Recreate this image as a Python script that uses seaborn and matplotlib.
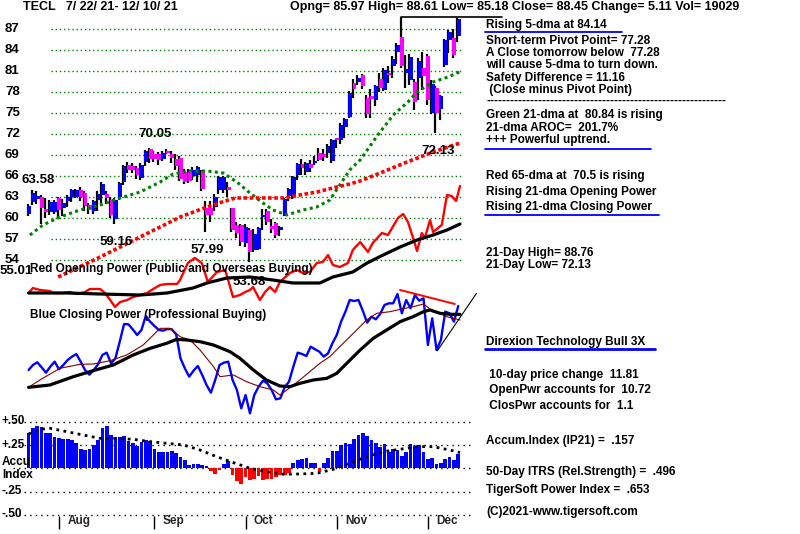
import numpy as np
import matplotlib
matplotlib.use("Agg")
import matplotlib.pyplot as plt
import seaborn as sns
from matplotlib.lines import Line2D

# ---------------- data ----------------
days = np.arange(100)
opens = [60.6, 62.3, 62.7, 63.0, 61.3, 60.9, 60.8, 62.8, 61.4, 62.4,
         63.0, 63.0, 64.0, 63.6, 61.9, 61.0, 62.6, 63.3, 63.4, 62.6,
         59.8, 63.0, 65.1, 67.6, 67.5, 67.1, 65.7, 68.0, 69.9, 69.2,
         69.1, 68.5, 69.6, 69.1, 68.5, 68.6, 66.6, 66.6, 66.0, 66.2,
         66.7, 61.4, 61.5, 61.6, 64.0, 64.0, 64.4, 61.4, 59.0, 59.0,
         56.4, 58.3, 55.4, 55.6, 60.1, 61.0, 58.8, 59.3, 58.3, 60.5,
         63.2, 63.1, 66.1, 67.7, 66.6, 67.7, 67.8, 69.3, 69.1, 69.3,
         68.1, 71.4, 71.1, 73.0, 74.4, 79.3, 79.4, 80.4, 77.1, 77.5,
         76.9, 79.9, 78.3, 80.7, 81.7, 83.7, 85.9, 80.7, 79.7, 79.4,
         80.0, 81.4, 83.1, 75.0, 78.6, 75.6, 81.9, 85.4, 85.7, 85.97]
highs = [62.0, 64.0, 63.9, 63.3, 62.8, 62.6, 62.6, 63.0, 62.7, 63.3,
         64.1, 64.2, 64.5, 63.9, 62.2, 62.6, 63.8, 65.2, 63.8, 63.0,
         62.8, 65.2, 67.6, 68.0, 67.8, 67.4, 67.8, 69.7, 70.05, 69.6,
         69.5, 69.6, 69.9, 69.6, 69.1, 68.8, 67.0, 67.0, 67.3, 67.4,
         66.8, 62.5, 62.5, 63.4, 66.0, 66.0, 65.1, 61.5, 59.4, 59.2,
         59.2, 58.6, 58.4, 58.7, 61.3, 61.3, 59.8, 59.5, 58.9, 62.8,
         64.3, 66.0, 67.8, 68.5, 68.0, 68.3, 68.8, 70.0, 69.8, 70.6,
         71.3, 71.5, 73.6, 74.3, 78.2, 79.8, 80.5, 80.6, 77.6, 78.4,
         79.0, 80.7, 81.4, 81.7, 83.1, 85.0, 88.76, 83.3, 83.5, 79.8,
         82.9, 83.7, 83.4, 79.7, 78.9, 77.6, 85.6, 86.8, 87.0, 88.61]
lows = [60.3, 61.8, 62.0, 59.2, 60.0, 60.4, 60.6, 60.0, 60.3, 61.6,
        62.3, 62.9, 62.5, 61.0, 60.6, 60.6, 61.0, 62.1, 62.0, 60.0,
        59.16, 62.6, 64.7, 66.4, 66.4, 65.6, 65.4, 67.5, 67.9, 68.0,
        67.6, 68.2, 69.2, 67.8, 66.8, 65.3, 64.8, 65.0, 65.4, 65.2,
        63.8, 57.99, 59.5, 61.0, 63.5, 63.6, 63.0, 58.0, 57.2, 56.0,
        55.8, 53.68, 55.2, 55.4, 58.3, 59.0, 57.9, 57.2, 57.4, 60.3,
        62.5, 62.7, 65.5, 66.2, 66.2, 66.6, 67.6, 68.1, 68.2, 68.6,
        67.9, 70.0, 70.6, 71.4, 74.3, 77.2, 79.0, 78.5, 74.3, 74.3,
        76.0, 78.0, 78.1, 79.3, 80.0, 82.0, 81.5, 78.6, 79.0, 75.5,
        76.9, 78.3, 76.2, 74.8, 72.13, 74.0, 81.6, 83.6, 82.8, 85.18]
closes = [61.7, 63.6, 63.2, 61.4, 60.8, 62.3, 62.3, 61.1, 62.1, 63.0,
          64.0, 64.0, 63.0, 61.7, 61.2, 62.4, 63.5, 64.9, 62.8, 60.4,
          62.6, 65.0, 67.4, 66.9, 66.9, 66.1, 67.6, 69.6, 68.4, 68.5,
          68.3, 69.3, 69.3, 68.6, 67.4, 65.6, 65.1, 65.3, 66.9, 67.3,
          64.2, 60.4, 60.5, 63.0, 65.9, 65.8, 64.0, 58.3, 57.8, 56.6,
          58.7, 55.1, 57.7, 58.6, 60.4, 59.4, 58.5, 57.6, 58.7, 62.7,
          64.1, 65.9, 67.7, 67.2, 67.8, 67.2, 68.1, 68.3, 68.7, 70.3,
          71.1, 71.1, 73.3, 74.1, 77.9, 78.4, 80.0, 78.9, 74.9, 77.0,
          78.9, 78.6, 81.1, 80.4, 82.7, 84.7, 81.7, 81.3, 83.0, 76.6,
          82.4, 80.3, 76.9, 79.1, 75.0, 77.4, 85.4, 86.6, 83.3, 88.45]

# green 21-dma (day, price)
ma21_days = [0.3, 3.3, 7.2, 11.8, 16.5, 21.1, 25.7, 30.3, 33.3, 37.2, 41.1, 44.8, 48.0, 51.0,
             54.0, 56.3, 59.5, 63.2, 66.4, 69.4, 71.7, 74.0, 76.4, 80.3, 84.0, 87.4, 89.5,
             93.2, 96.6, 99.3]
ma21_vals = [57.57, 59.0, 60.14, 61.14, 61.86, 62.86, 63.71, 65.14, 66.29, 66.71, 66.71, 66.43,
             65.14, 63.57, 62.14, 61.14, 60.43, 61.14, 61.57, 62.57, 64.71, 66.86, 68.29, 71.71,
             74.71, 76.57, 78.0, 79.43, 80.14, 80.86]
# red 65-dma (day, price)
ma65_days = [6.8, 16.5, 25.7, 34.9, 41.1, 44.6, 47.6, 59.1, 62.5, 66.4, 70.1, 74.0, 76.4, 81.0,
             87.2, 93.2, 99.4]
ma65_vals = [51.57, 54.43, 57.29, 60.14, 61.57, 62.29, 62.86, 62.86, 63.29, 63.71, 64.29, 64.86,
             65.29, 66.43, 68.0, 69.43, 70.71]

# Opening Power (arbitrary units) and its moving average
op_days = [0, 1, 2.6, 4.9, 5.6, 7.9, 9.5, 11.2, 13, 14.1, 16.5, 17.6, 18.8, 19.9, 21.1, 22.7,
           24.1, 25.7, 27.3, 28.7, 30.3, 31.9, 34.2, 34.9, 36.7, 38.3, 39.9, 41.3, 43.4, 45.3,
           47.1, 48.7, 49.9, 51, 51.7, 53.3, 54.5, 55.6, 56.8, 57.9, 60.2, 61.8, 63.2, 64.8,
           66.4, 67.8, 69, 70.1, 71.7, 73.6, 74.7, 76.4, 78.2, 79.3, 81.4, 82.8, 83.9, 85.1,
           86.3, 87.4, 88.6, 89.5, 90.6, 91.3, 92.5, 93.2, 95.2, 96.4, 97.5, 98.5, 99.4]
op_vals = [411, 426, 420, 417, 411, 411, 414, 408, 414, 423, 423, 411, 390, 369, 384, 390,
           399, 405, 411, 423, 435, 438, 438, 450, 501, 516, 501, 444, 474, 480,
           399, 405, 414, 420, 429, 390, 414, 429, 414, 444, 471, 480, 471, 474,
           501, 504, 525, 495, 489, 501, 540, 564, 534, 561, 591, 585, 609, 636,
           648, 624, 576, 537, 591, 576, 630, 594, 615, 705, 702, 687, 732]
opma_days = [0, 8.8, 16.5, 25.7, 31.9, 37.9, 41.1, 45.7, 51, 56.3, 60.9, 67.1, 70.1, 74.7,
             78, 81.7, 85.6, 89.5, 93.2, 96.4, 99.4]
opma_vals = [411, 411, 408, 405, 411, 426, 441, 456, 459, 450, 441, 441, 459, 474,
             501, 525, 549, 570, 585, 600, 618]

# Closing Power (same arbitrary units), daily
cp = [180, 195, 203, 188, 172, 190, 205, 182, 195, 210,
      220, 228, 205, 180, 166, 180, 197, 225, 232, 200,
      215, 265, 318, 317, 302, 285, 300, 342, 325, 312,
      300, 298, 303, 302, 287, 215, 185, 160, 178, 192,
      165, 135, 112, 150, 195, 202, 205, 150, 120, 65,
      105, 50, 105, 130, 148, 140, 120, 92, 95, 128,
      145, 190, 232, 228, 222, 250, 242, 235, 220, 230,
      260, 285, 325, 355, 390, 387, 390, 358, 322, 340,
      332, 348, 375, 380, 380, 408, 350, 390, 365, 405,
      388, 395, 255, 335, 240, 270, 355, 350, 325, 372]
cp21_days = [0, 2.6, 7.2, 11.8, 14.9, 18.8, 22.6, 26.4, 30.3, 32.6, 34.9, 37.2, 39.5, 42.6,
             44.1, 47.2, 50.2, 53.3, 56.4, 57.9, 59.5, 62.5, 67.1, 69.4, 71.7, 74.8, 77.9,
             80.2, 83.3, 85.6, 88.6, 91, 93.3, 94.8, 96.3, 97.9, 99.4]
cp21_vals = [128, 150, 185, 197, 198, 208, 225, 255, 305, 305, 280, 270, 240, 190,
             160, 165, 145, 130, 120, 105, 120, 150, 200, 220, 250, 290, 330,
             350, 355, 362, 370, 378, 355, 350, 340, 335, 330]
cpma_days = [0, 4.9, 10.3, 14.9, 19.5, 24.1, 28, 31.8, 34.1, 36.4, 39.5, 42.6, 46.4, 48.7,
             51.8, 54.8, 57.9, 60.2, 62.5, 65.6, 68.7, 71, 73.3, 76.4, 79.4, 82.5, 85.6,
             88.6, 91, 92.5, 94.8, 97.1, 99.4]
cpma_vals = [128, 135, 160, 178, 195, 225, 245, 260, 272, 270, 265, 255, 235, 215,
             180, 150, 132, 130, 140, 150, 155, 170, 200, 240, 275, 300, 325,
             340, 355, 360, 350, 347, 347]
cp_res_days, cp_res_vals = [85.6, 98.2], [420, 378]
cp_sup_days, cp_sup_vals = [94.2, 103.2], [238, 410]

# Accumulation index (IP21), daily
accum = [0.375, 0.43, 0.45, 0.44, 0.38, 0.38, 0.34, 0.32, 0.31, 0.31,
         0.30, 0.275, 0.21, 0.20, 0.21, 0.25, 0.30, 0.43, 0.45, 0.36,
         0.34, 0.34, 0.35, 0.29, 0.27, 0.24, 0.28, 0.30, 0.29, 0.21,
         0.17, 0.17, 0.18, 0.19, 0.16, 0.125, 0.09, 0.036, 0.046, 0.046,
         0.036, 0.025, -0.03, -0.06, -0.018, 0.05, 0.08, -0.07, -0.14, -0.17,
         -0.09, -0.125, -0.12, -0.08, -0.125, -0.11, -0.12, -0.09, -0.07, -0.07,
         -0.046, 0.06, 0.09, 0.10, 0.11, 0.06, 0.054, -0.036, 0.054, 0.11,
         0.19, 0.19, 0.25, 0.27, 0.26, 0.31, 0.36, 0.375, 0.35, 0.30,
         0.27, 0.23, 0.26, 0.18, 0.21, 0.20, 0.13, 0.18, 0.26, 0.24,
         0.25, 0.18, 0.10, 0.11, 0.046, 0.054, 0.10, 0.12, 0.09, 0.157]
aima_days = [0, 2.6, 4.9, 8.8, 12.6, 16.5, 20.3, 24.1, 28, 31.8, 35.7, 39.5, 43.3, 47.2, 51,
             54.8, 58.7, 62.5, 66.4, 70.2, 74, 77.9, 81.7, 85.6, 89.4, 93.2, 97.1, 99.4]
aima_vals = [0.368, 0.418, 0.429, 0.393, 0.357, 0.321, 0.321, 0.311, 0.286, 0.268, 0.25,
             0.196, 0.125, 0.061, 0.0, -0.036, -0.064, -0.061, -0.054, -0.011, 0.054,
             0.125, 0.179, 0.204, 0.232, 0.232, 0.196, 0.168]

price_levels = [54, 57, 60, 63, 66, 69, 72, 75, 78, 81, 84, 87]
accum_levels = [0.5, 0.25, 0.0, -0.25, -0.5]
month_days = [7, 29, 50, 71, 92]
month_names = ["Aug", "Sep", "Oct", "Nov", "Dec"]
high21 = 88.76

# ---------------- styling ----------------
sns.set_theme(style="white")
plt.rcParams["font.family"] = ["Liberation Sans", "DejaVu Sans"]
plt.rcParams["font.weight"] = "bold"

W, H = 800, 534
fig = plt.figure(figsize=(8, 5.34), dpi=100)
fig.patch.set_facecolor("white")

X0, DX = 28.6, 4.34
XLIM = (-X0 / DX, (W - X0) / DX)


def fpos(top, bottom):
    return [0, 1 - bottom / H, 1, (bottom - top) / H]


ax_p = fig.add_axes(fpos(0, 300))
ax_w = fig.add_axes(fpos(170, 420))
ax_a = fig.add_axes(fpos(410, 534))

# ---- price panel ----
for p in price_levels:
    ax_p.axhline(p, xmin=51 / W, xmax=463 / W, color="#008000", lw=1, ls=(0, (1, 2)), zorder=1)
    ax_p.text((5 - X0) / DX, p, str(p), ha="left", va="center", fontsize=9.5,
              fontweight="bold", color="black")

o = np.array(opens); c = np.array(closes)
cols = np.where(c >= o, "#0000FF", "#FF00FF")
ax_p.vlines(days - 0.25, lows, highs, color="black", lw=1.6, zorder=2)
ax_p.bar(days + 0.1, np.maximum(np.abs(c - o), 0.3), bottom=np.minimum(o, c), width=0.9,
         color=cols, linewidth=0, zorder=3)

sns.lineplot(x=ma21_days, y=ma21_vals, ax=ax_p, color="#008000", lw=2.2,
             linestyle=(0, (1, 1.1)), estimator=None, sort=False, legend=False, zorder=4)
sns.lineplot(x=ma65_days, y=ma65_vals, ax=ax_p, color="#FF0000", lw=2.6,
             linestyle=(0, (1, 0.7)), estimator=None, sort=False, legend=False, zorder=4)
ax_p.plot([85.8, 109], [high21, high21], color="black", lw=1.2, zorder=4)

# ---- power panel ----
sns.lineplot(x=op_days, y=op_vals, ax=ax_w, color="#FF0000", lw=1.7,
             estimator=None, sort=False, legend=False)
sns.lineplot(x=opma_days, y=opma_vals, ax=ax_w, color="black", lw=2.3,
             estimator=None, sort=False, legend=False)
sns.lineplot(x=days, y=cp, ax=ax_w, color="#0000FF", lw=1.7,
             estimator=None, sort=False, legend=False)
sns.lineplot(x=cp21_days, y=cp21_vals, ax=ax_w, color="#800000", lw=0.8,
             estimator=None, sort=False, legend=False)
sns.lineplot(x=cpma_days, y=cpma_vals, ax=ax_w, color="black", lw=2.3,
             estimator=None, sort=False, legend=False)
ax_w.plot(cp_res_days, cp_res_vals, color="#FF0000", lw=1.4)
ax_w.plot(cp_sup_days, cp_sup_vals, color="black", lw=0.8)

# ---- accumulation panel ----
for v in accum_levels:
    ax_a.axhline(v, xmin=13 / W, xmax=471 / W, color="black", lw=1, ls=(0, (1, 3)), zorder=1)
acc = np.array(accum)
ax_a.bar(days, acc, width=0.85, color=np.where(acc >= 0, "#0000FF", "#FF0000"),
         linewidth=0, zorder=4)
sns.lineplot(x=aima_days, y=aima_vals, ax=ax_a, color="black", lw=2.0,
             linestyle=(0, (1, 1.6)), estimator=None, sort=False, legend=False, zorder=5)
ax_a.vlines(month_days, -0.65, -0.51, color="black", lw=1)
for d, name in zip(month_days, month_names):
    ax_a.text(d + 1.9, -0.568, name, ha="left", va="center", fontsize=8.5, fontweight="bold")

for ax in (ax_p, ax_w, ax_a):
    ax.set_xlim(XLIM)
    ax.axis("off")
    ax.patch.set_alpha(0)
ax_p.set_ylim(48.286, 91.143)
ax_w.set_ylim(30, 780)
ax_a.set_ylim(-0.705, 0.6255)


# ---------------- texts ----------------
def ftext(x, y, s, size=8.5, z=3):
    fig.text(x / W, 1 - y / H, s, fontsize=size, fontweight="bold", ha="left",
             va="center", color="black", zorder=z)


def fline(x1, x2, y, color="#0000FF", lw=1.3):
    fig.add_artist(Line2D([x1 / W, x2 / W], [1 - y / H, 1 - y / H], color=color, lw=lw))


ftext(23, 7, "TECL   7/ 22/ 21- 12/ 10/ 21", 9)
ftext(290, 7, "Opng= 85.97 High= 88.61 Low= 85.18 Close= 88.45 Change= 5.11 Vol= 19029", 9)

for s, x, y in [("63.58", 22, 180), ("70.05", 138, 134), ("59.16", 100, 242),
                ("57.99", 191, 250), ("53.68", 233, 282), ("55.01", 0, 271),
                ("72.13", 421, 151)]:
    ftext(x, y, s, 9.5)

ftext(30, 269, "Red Opening Power (Public and Overseas Buying)")
ftext(30, 315, "Blue Closing Power (Professional Buying)")

right = [
    ("Rising 5-dma at 84.14", 25),
    ("Short-term Pivot Point= 77.28", 41),
    ("A Close tomorrow below  77.28", 53),
    ("will cause 5-dma to turn down.", 65),
    ("Safety Difference = 11.16", 78),
    (" (Close minus Pivot Point)", 90),
    ("-" * 60, 101),
    ("Green 21-dma at  80.84 is rising", 115),
    ("21-dma AROC=  201.7%", 128),
    ("+++ Powerful uptrend.", 140),
    ("Red 65-dma at  70.5 is rising", 176),
    ("Rising 21-dma Opening Power", 192),
    ("Rising 21-dma Closing Power", 207),
    ("21-Day High= 88.76", 253),
    ("21-Day Low= 72.13", 265),
    ("Direxion Technology Bull 3X", 342),
    (" 10-day price change  11.81", 375),
    (" OpenPwr accounts for  10.72", 390),
    (" ClosPwr accounts for  1.1", 406),
    ("Accum.Index (IP21) =  .157", 441),
    ("50-Day ITRS (Rel.Strength) =  .496", 472),
    ("TigerSoft Power Index =  .653", 490),
    ("(C)2021-www.tigersoft.com", 512),
]
for s, y in right:
    ftext(486, y, s)

fline(485, 622, 32)
fline(485, 651, 149)
fline(485, 659, 215)
fline(485, 655, 349, lw=2)

for s, y in [("+.50", 421), ("+.25", 445), ("Accu", 462), ("Index", 475),
             ("-.25", 491), ("-.50", 514)]:
    ftext(2, y, s, z=1)

fig.savefig("out.png", dpi=100, facecolor="white")
